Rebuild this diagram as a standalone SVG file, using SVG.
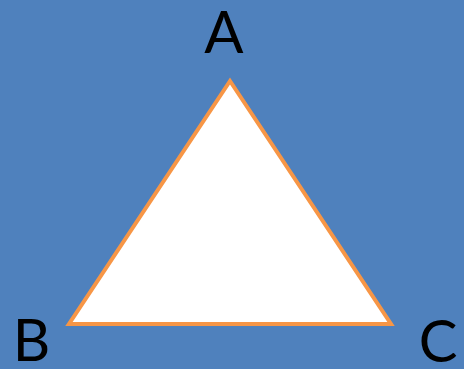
<svg xmlns="http://www.w3.org/2000/svg" width="464" height="369" viewBox="0 0 464 369">
  <style>
    .lbl { font-family: Lato, "Open Sans", "Liberation Sans", sans-serif; font-size: 58px; fill: #000000; text-anchor: middle; }
  </style>
  <rect x="0" y="0" width="464" height="369" fill="#4F81BD"/>
  <polygon points="230,81 69,324 391,324" fill="#FFFFFF" stroke="#F79646" stroke-width="4" stroke-linejoin="miter"/>
  <text class="lbl" x="224" y="53">A</text>
  <text class="lbl" x="31.5" y="361">B</text>
  <text class="lbl" x="438" y="362">C</text>
</svg>
